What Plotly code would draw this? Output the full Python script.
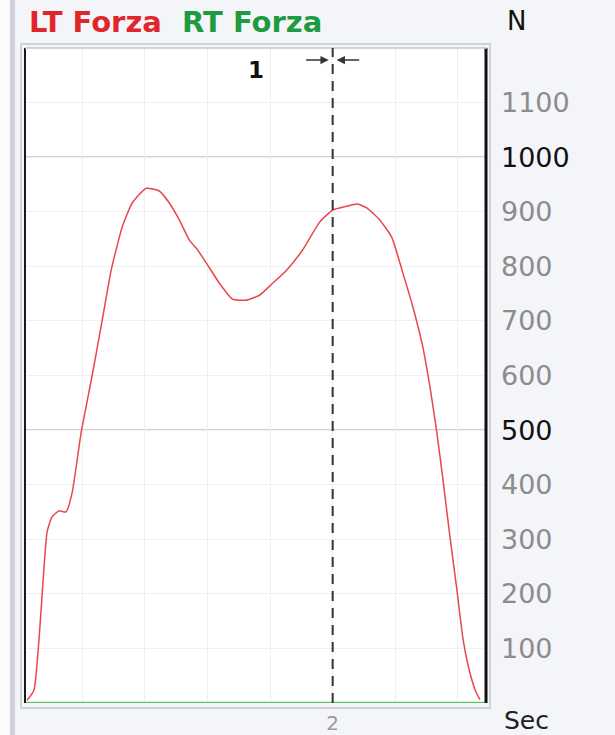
import plotly.graph_objects as go

# ---- data ----
lt_time = [0.780, 0.808, 0.860, 0.880, 0.908, 0.936, 0.960, 0.996, 1.040, 1.080,
           1.116, 1.160, 1.200, 1.256, 1.308, 1.348, 1.388, 1.428, 1.456, 1.496, 1.548,
           1.600, 1.656, 1.708, 1.760, 1.816, 1.880, 1.948, 2.000, 2.056, 2.100, 2.136,
           2.188, 2.236, 2.280, 2.320, 2.360, 2.388, 2.416, 2.440, 2.468, 2.496,
           2.520, 2.548, 2.572, 2.588]
lt_force = [5, 24, 313, 341, 352, 350, 385, 495, 600, 701,
            793, 872, 916, 943, 938, 916, 885, 848, 833, 806, 769,
            740, 738, 747, 769, 793, 830, 881, 903, 910, 914, 907,
            885, 853, 788, 726, 652, 580, 495, 410, 305, 207,
            118, 55, 20, 6]
rt_time = [0.772, 2.616]
rt_force = [0, 0]

y_ticks = [100, 200, 300, 400, 500, 600, 700, 800, 900, 1000, 1100]
y_major = [500, 1000]
x_grid = [1.0, 1.25, 1.5, 1.75, 2.0, 2.25, 2.5]
x_labels = ["", "", "", "", "2", "", ""]
marker_time = 2.0
marker_label = "1"

# ---- layout helpers (pixel geometry of the plot area) ----
L, R, T, B = 25, 487, 48, 703
W, H = 615, 735
def px(xp):
    return (xp - L) / (R - L)
def py(yp):
    return (B - yp) / (B - T)

fig = go.Figure()
fig.add_trace(go.Scatter(x=rt_time, y=rt_force, mode="lines",
                         line=dict(color="#5fc26e", width=2.5), name="RT Forza"))
fig.add_trace(go.Scatter(x=lt_time, y=lt_force, mode="lines",
                         line=dict(color="#e8474a", width=1.5, shape="spline", smoothing=0.5),
                         name="LT Forza"))

tick_text = [f"<span style='color:#111111'>{v}</span>" if v in y_major else str(v) for v in y_ticks]

fig.update_layout(
    width=W, height=H,
    margin=dict(l=L, r=W - R, t=T, b=H - B, autoexpand=False),
    paper_bgcolor="#f3f5f8",
    plot_bgcolor="#ffffff",
    showlegend=False,
    font=dict(family="DejaVu Sans", color="#8c8c8c"),
    xaxis=dict(range=[0.772, 2.616], tickmode="array", tickvals=x_grid, ticktext=x_labels,
               showgrid=True, gridcolor="#edf0f3", gridwidth=1, zeroline=False,
               showline=False, ticks="", ticklabelstandoff=6, automargin=False,
               tickfont=dict(size=20, color="#9a9a9a"), fixedrange=True),
    yaxis=dict(range=[0, 1200], side="right", tickmode="array", tickvals=y_ticks,
               ticktext=tick_text, showgrid=True, gridcolor="#edf0f3", gridwidth=1,
               zeroline=False, showline=False, ticks="", ticklabelstandoff=13, automargin=False,
               tickfont=dict(size=27, color="#8c8c8c"), fixedrange=True),
)

shapes = []
# outer left strip
shapes.append(dict(type="rect", xref="paper", yref="paper", x0=px(0), x1=px(10),
                   y0=py(H), y1=py(0), fillcolor="#fbfbfc", line=dict(width=0), layer="below"))
shapes.append(dict(type="rect", xref="paper", yref="paper", x0=px(10), x1=px(15),
                   y0=py(H), y1=py(0), fillcolor="#cfd2d6", line=dict(width=0), layer="below"))
# frame around plot
shapes.append(dict(type="rect", xref="paper", yref="paper", x0=px(21), x1=px(490),
                   y0=py(708), y1=py(44), line=dict(color="#c4c7cb", width=1.5),
                   fillcolor="rgba(0,0,0,0)", layer="below"))
# major horizontal lines
for v in y_major:
    shapes.append(dict(type="line", xref="paper", yref="y", x0=0, x1=1, y0=v, y1=v,
                       line=dict(color="#a8a8a8", width=1.2), layer="below"))
# plot borders
shapes.append(dict(type="line", xref="paper", yref="paper", x0=0, x1=0, y0=0, y1=1,
                   line=dict(color="#1a1a1a", width=2)))
shapes.append(dict(type="line", xref="paper", yref="paper", x0=px(486), x1=px(486), y0=0, y1=1,
                   line=dict(color="#111111", width=3)))
shapes.append(dict(type="line", xref="paper", yref="paper", x0=0, x1=1, y0=1, y1=1,
                   line=dict(color="#c4c7cb", width=1.5)))
# marker dashed line
shapes.append(dict(type="line", xref="x", yref="paper", x0=marker_time, x1=marker_time,
                   y0=0, y1=1, line=dict(color="#333333", width=2, dash="10px,7px")))
fig.update_layout(shapes=shapes)

ann = []
ann.append(dict(xref="paper", yref="paper", x=px(27), y=py(22), xanchor="left", yanchor="middle",
                text="<b><span style='color:#e0262b'>LT Forza</span>  "
                     "<span style='color:#1e9b41'>RT Forza</span></b>",
                showarrow=False, font=dict(size=29, family="DejaVu Sans")))
ann.append(dict(xref="paper", yref="paper", x=px(505), y=py(21), xanchor="left", yanchor="middle",
                text="N", showarrow=False, font=dict(size=26, color="#111111")))
ann.append(dict(xref="paper", yref="paper", x=px(502), y=py(721), xanchor="left", yanchor="middle",
                text="Sec", showarrow=False, font=dict(size=25, color="#222222")))
ann.append(dict(xref="x", yref="paper", x=marker_time - 77 / 250, y=py(70), xanchor="center",
                yanchor="middle", text=f"<b>{marker_label}</b>", showarrow=False,
                font=dict(size=23, color="#111111")))
ann.append(dict(xref="x", yref="paper", x=marker_time - 4 / 250, y=py(60), text="",
                showarrow=True, ax=-24, ay=0, arrowhead=2, arrowsize=1.1, arrowwidth=1.5,
                arrowcolor="#333333"))
ann.append(dict(xref="x", yref="paper", x=marker_time + 4 / 250, y=py(60), text="",
                showarrow=True, ax=24, ay=0, arrowhead=2, arrowsize=1.1, arrowwidth=1.5,
                arrowcolor="#333333"))
fig.update_layout(annotations=ann)

fig.write_html("out.html", config={"displayModeBar": False},
               post_script="document.body.style.margin='0';document.body.style.overflow='hidden';")
